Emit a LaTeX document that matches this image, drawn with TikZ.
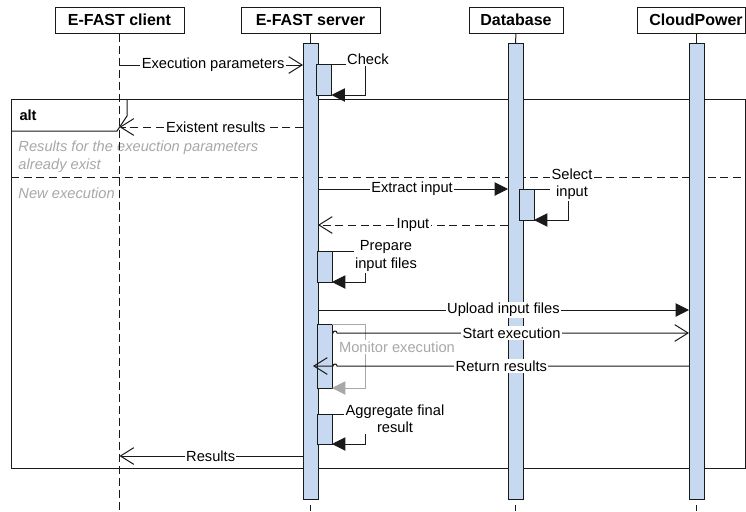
\documentclass[tikz,border=0pt]{standalone}
\usepackage{fontspec}
\setmainfont{Liberation Sans}
\usetikzlibrary{arrows.meta}
\definecolor{barfill}{HTML}{C6D9F1}
\definecolor{graytxt}{HTML}{A8A8A8}
\definecolor{lin}{HTML}{1A1A1A}
\begin{document}
\begin{tikzpicture}[x=0.75pt,y=-0.75pt,line width=0.75pt,
  head/.style={draw=lin, fill=white, font=\fontsize{12}{14}\selectfont\bfseries, minimum height=19.5pt, inner sep=1pt},
  bar/.style={draw=lin, fill=barfill, minimum width=11.25pt, inner sep=0pt, outer sep=0pt},
  lbl/.style={font=\fontsize{11}{13}\selectfont, fill=white, inner sep=1pt, align=center, text=black},
  glbl/.style={font=\fontsize{11}{13}\selectfont, fill=white, inner sep=1pt, align=center, text=graytxt},
  msg/.style={draw=lin, -{Triangle[length=10pt,width=10pt]}},
  reply/.style={draw=lin, -{Straight Barb[length=10pt,width=12.5pt]}},
  dsh/.style={dash pattern=on 6pt off 3.5pt},
  life/.style={draw=lin, dash pattern=on 6pt off 3pt},
  gmsg/.style={draw=graytxt, -{Triangle[length=10pt,width=10pt]}},
  frm/.style={draw=lin},
  note/.style={font=\fontsize{11}{13.5}\selectfont\itshape, text=graytxt, align=left, inner sep=0pt, anchor=west}
]
\useasboundingbox (0,0) rectangle (746,511);
\clip (0,0) rectangle (746,511);
\fill[white] (0,0) rectangle (746,511);

% alt frame
\draw[frm] (11,99) rectangle (745,468);
\draw[frm] (11,131) -- (117,131) -- (127,116) -- (127,99);
\node[font=\fontsize{11}{13}\selectfont\bfseries, anchor=west, inner sep=0pt] (alt) at (19,115) {alt};
\draw[frm, dsh] (11,177) -- (745,177);
\node[note] (g1) at (18,156.5) {Results for the exeuction parameters\\already exist};
\node[note] (g2) at (18,193) {New execution};

% headers
\node[head, minimum width=96.75pt] (chead) at (119.5,20) {E-FAST client};
\node[head, minimum width=104.25pt] (shead) at (310.5,20) {E-FAST server};
\node[head, minimum width=70.5pt] (dhead) at (516,20) {Database};
\node[head, minimum width=81pt] (cphead) at (691,20) {\hspace*{7.5pt}CloudPower};

% lifelines
\coordinate (cbot) at (119.5,511);
\draw[life] (chead.south) -- (cbot);

% bars
\node[bar, minimum height=342pt] (sbar) at (310.5,271) {};
\node[bar, minimum height=342pt] (dbar) at (515.5,271) {};
\node[bar, minimum height=342pt] (cbar) at (696.5,271) {};
\draw[lin] (shead.south) -- (sbar.north);
\draw[lin] (dhead.south) -- (dbar.north);
\draw[lin] (cphead.south -| cbar.north) -- (cbar.north);
\coordinate (sb) at (310.5,511);
\coordinate (db) at (515.5,511);
\coordinate (cb) at (696.5,511);
\draw[lin] ([yshift=-4.5pt]sbar.south) -- (sb);
\draw[lin] ([yshift=-4.5pt]dbar.south) -- (db);
\draw[lin] ([yshift=-4.5pt]cbar.south) -- (cb);

% activation boxes
\node[bar, minimum height=23.25pt] (check) at (324,79.5) {};
\node[bar, minimum height=23.25pt] (selbox) at (526.5,204.5) {};
\node[bar, minimum height=23.25pt] (prep) at (324.5,266.5) {};
\node[bar, minimum height=48pt] (mon) at (324.5,356) {};
\node[bar, minimum height=22.5pt] (agg) at (324.5,429) {};

% messages
\draw[reply] (chead.south |- 0,65) -- node[lbl, pos=0.51] {Execution parameters} (sbar.west |- 0,65);
\draw[reply, dsh] (sbar.west |- 0,127) -- node[lbl, pos=0.475] {Existent results} (chead.south |- 0,127);
\draw[msg] (sbar.east |- 0,189) -- node[lbl, pos=0.495] {Extract input} (dbar.west |- 0,189);
\draw[reply, dsh] (dbar.west |- 0,225) -- node[lbl, pos=0.5] {Input} (sbar.east |- 0,225);
\draw[msg] (sbar.east |- 0,310) -- node[lbl, pos=0.5] {Upload input files} (cbar.west |- 0,310);

% monitor self message (gray)
\draw[gmsg] (mon.north east) -- ++(33,0) |- (mon.south east);
\node[glbl] (monl) at (397,347) {Monitor execution};

\coordinate (hop) at ([xshift=0.75pt]mon.east);
\coordinate (hop2) at ([xshift=3.75pt]mon.east);
\coordinate (rrend) at ([xshift=-3.75pt]sbar.east);
\draw[reply] (mon.east |- 0,333) -- (hop |- 0,333) arc[start angle=180, end angle=360, radius=2] -- node[lbl, pos=0.496] {Start execution} (cbar.west |- 0,333);
\draw[reply] (cbar.west |- 0,366) -- node[lbl, pos=0.533] {Return results} (hop2 |- 0,366) arc[start angle=360, end angle=180, radius=2] -- (rrend |- 0,366);
\draw[reply] (sbar.west |- 0,456) -- node[lbl, pos=0.503] {Results} (chead.south |- 0,456);

% self messages
\draw[msg] (check.north east) -- ++(34,0) |- (check.south east);
\node[lbl] (checkl) at (368,59) {Check};
\draw[msg] (selbox.north east) -- ++(34,0) |- (selbox.south east);
\node[lbl] (sell) at (572,184) {Select\\input};
\draw[msg] (prep.north east) -- ++(33,0) |- (prep.south east);
\node[lbl] (prepl) at (386,256) {Prepare\\input files};
\draw[msg] (agg.north east) -- ++(33,0) |- (agg.south east);
\node[lbl] (aggl) at (395,419) {Aggregate final\\result};
\end{tikzpicture}
\end{document}
